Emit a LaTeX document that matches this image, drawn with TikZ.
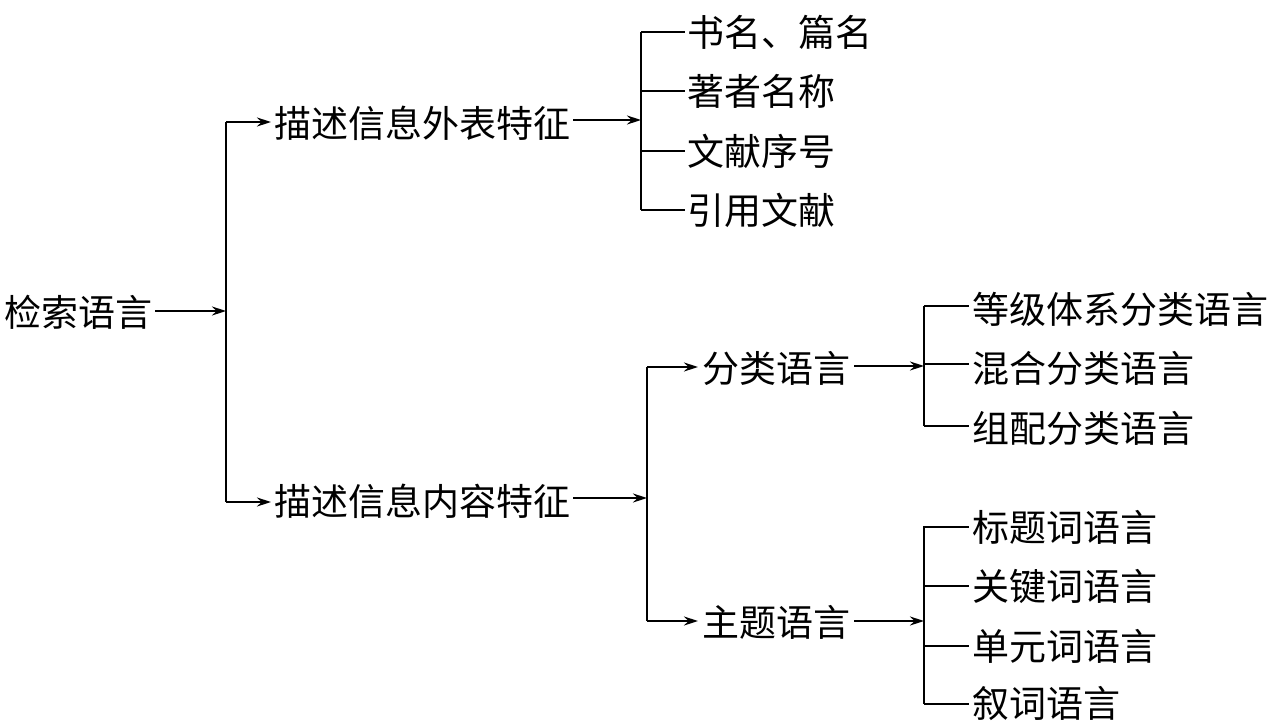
\documentclass[tikz,border=0pt]{standalone}
\usepackage{fontspec}
\setmainfont{Noto Sans CJK SC}
\usetikzlibrary{arrows.meta}
\begin{document}
\begin{tikzpicture}[x=1pt,y=-1pt,
 lbl/.style={anchor=west,inner sep=0pt,outer sep=0pt,font=\fontsize{37}{40}\selectfont},
 arr/.style={-{Stealth[length=14pt,width=9pt]},line width=1.6pt},
 ln/.style={line width=1.1pt}]
\useasboundingbox (0,0) rectangle (1278,726);
% level 0
\node[lbl] (root) at (5,312) {检索语言};
\coordinate (v1) at (226,311);
\coordinate (v1t) at (226,122);
\coordinate (v1b) at (226,502);
\node[lbl] (wb) at (274,123) {描述信息外表特征};
\node[lbl] (nr) at (274,501) {描述信息内容特征};
\draw[arr] ([xshift=2pt]root.east |- v1) -- (v1);
\draw[ln,line width=1.6pt] (v1t) -- (v1b);
\draw[arr] (v1t) -- ([xshift=-3pt]v1t -| wb.west);
\draw[arr] (v1b) -- ([xshift=-3pt]v1b -| nr.west);
% bracket 1
\coordinate (b1) at (641,120);
\coordinate (b1t) at (641,32);
\coordinate (b1b) at (641,210);
\draw[arr] ([xshift=3pt]wb.east |- b1) -- (b1);
\node[lbl] (s1) at (687,32) {书名、篇名};
\node[lbl] (s2) at (687,91) {著者名称};
\node[lbl] (s3) at (687,151) {文献序号};
\node[lbl] (s4) at (687,210) {引用文献};
\draw[ln] (b1t) -- (b1b);
\foreach \n in {s1,s2,s3,s4} \draw[ln] (b1 |- \n.west) -- ([xshift=-2pt]\n.west);
% level 2
\coordinate (v2) at (647,498);
\coordinate (v2t) at (647,367);
\coordinate (v2b) at (647,621);
\draw[arr] ([xshift=3pt]nr.east |- v2) -- (v2);
\draw[ln,line width=1.6pt] (v2t) -- (v2b);
\node[lbl] (fl) at (702,368) {分类语言};
\node[lbl] (zt) at (702,622) {主题语言};
\draw[arr] (v2t) -- ([xshift=-4pt]v2t -| fl.west);
\draw[arr] (v2b) -- ([xshift=-4pt]v2b -| zt.west);
% bracket 2
\coordinate (b2) at (924,366);
\coordinate (b2t) at (924,306);
\coordinate (b2b) at (924,426);
\draw[arr] ([xshift=4pt]fl.east |- b2) -- (b2);
\node[lbl] (f1) at (972,309) {等级体系分类语言};
\node[lbl] (f2) at (972,368) {混合分类语言};
\node[lbl] (f3) at (972,428) {组配分类语言};
\draw[ln] (b2t) -- (b2b);
\draw[ln] (b2t) -- ([xshift=-3pt]b2t -| f1.west);
\draw[ln] (924,364) -- ([xshift=-3pt]f2.west |- 924,364);
\draw[ln] (b2b) -- ([xshift=-3pt]b2b -| f3.west);
% bracket 3
\coordinate (b3) at (924,621);
\coordinate (b3t) at (924,526);
\coordinate (b3b) at (924,704);
\draw[arr] ([xshift=4pt]zt.east |- b3) -- (b3);
\node[lbl] (z1) at (972,527) {标题词语言};
\node[lbl] (z2) at (972,586) {关键词语言};
\node[lbl] (z3) at (972,646) {单元词语言};
\node[lbl] (z4) at (972,704) {叙词语言};
\draw[ln] (b3t) -- (b3b);
\foreach \n in {z1,z2,z3,z4} \draw[ln] (b3 |- \n.west) -- ([xshift=-3pt]\n.west);
\end{tikzpicture}
\end{document}
